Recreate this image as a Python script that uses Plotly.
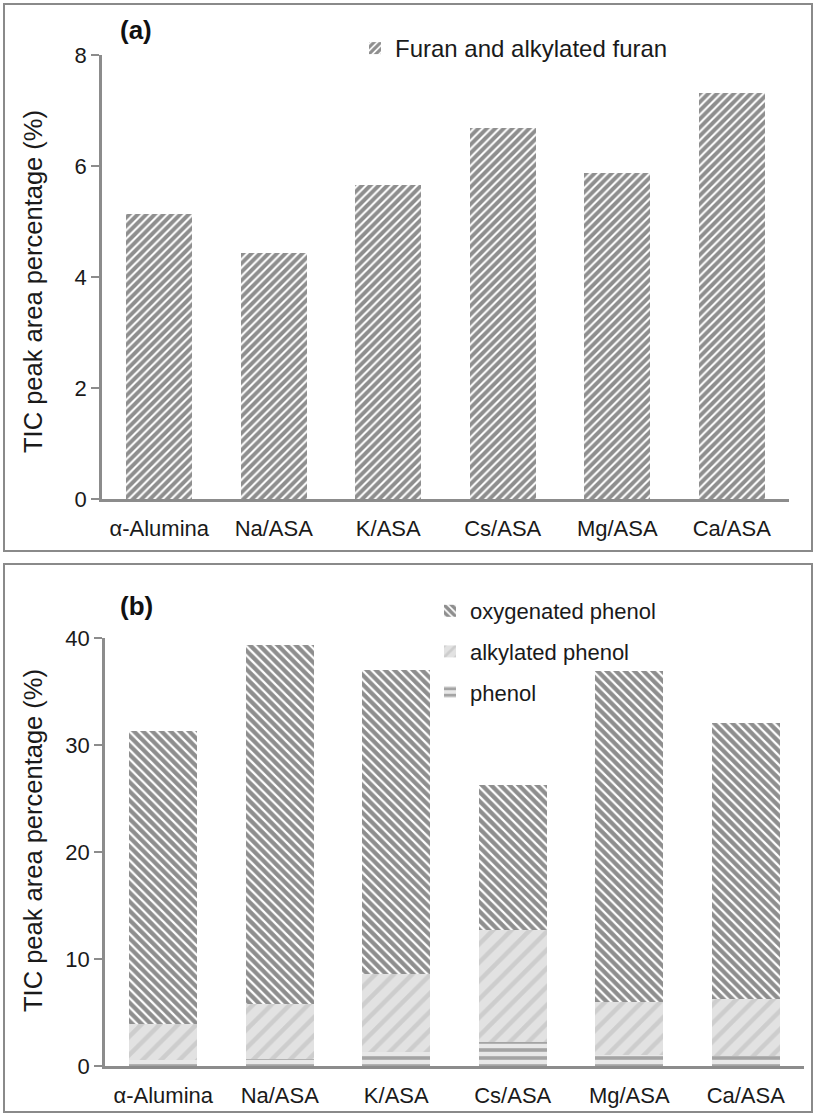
import plotly.graph_objects as go

categories = ["α-Alumina", "Na/ASA", "K/ASA", "Cs/ASA", "Mg/ASA", "Ca/ASA"]

# Panel (a)
furan = [5.13, 4.43, 5.65, 6.68, 5.88, 7.32]

# Panel (b) stacked segments
phenol = [0.6, 0.7, 1.3, 2.2, 1.0, 0.9]
alkylated_phenol = [3.3, 5.1, 7.3, 10.5, 5.0, 5.4]
oxygenated_phenol = [27.4, 33.5, 28.4, 13.6, 30.9, 25.8]

y_title = "TIC peak area percentage (%)"

W, H = 816, 1116
FONT = "Liberation Sans, Arial, sans-serif"
TXT = "#1a1a1a"
AX = "#8c8c8c"

def px(x):
    return x / W

def py(y):
    return 1 - y / H

fig = go.Figure()

fig.add_trace(go.Bar(
    x=categories, y=furan, name="Furan and alkylated furan",
    xaxis="x", yaxis="y", legend="legend",
    marker=dict(color="white", line=dict(width=0),
                pattern=dict(shape="/", fgcolor="#1e1e1e", bgcolor="white",
                             size=6, solidity=0.66)),
))

fig.add_trace(go.Bar(
    x=categories, y=phenol, name="phenol",
    xaxis="x2", yaxis="y2", legend="legend2", legendgroup="g1", legendrank=3,
    marker=dict(color="#e4e4e4", line=dict(width=0),
                pattern=dict(shape="-", fgcolor="#606060", bgcolor="#e8e8e8",
                             size=8, solidity=0.45)),
))
fig.add_trace(go.Bar(
    x=categories, y=alkylated_phenol, name="alkylated phenol",
    xaxis="x2", yaxis="y2", legend="legend2", legendgroup="g2", legendrank=2,
    marker=dict(color="#e0e0e0", line=dict(width=0),
                pattern=dict(shape="/", fgcolor="#b8b8b8", bgcolor="#e2e2e2",
                             size=13, solidity=0.35)),
))
fig.add_trace(go.Bar(
    x=categories, y=oxygenated_phenol, name="oxygenated phenol",
    xaxis="x2", yaxis="y2", legend="legend2", legendgroup="g3", legendrank=1,
    marker=dict(color="white", line=dict(width=0),
                pattern=dict(shape="\\", fgcolor="#1e1e1e", bgcolor="white",
                             size=6.5, solidity=0.66)),
))

yaxis_common = dict(
    showgrid=False, zeroline=False, showline=True, linecolor=AX, linewidth=2.5,
    ticks="outside", ticklen=8, tickcolor=AX, tickwidth=2,
    tickfont=dict(family=FONT, size=22, color=TXT),
    automargin=False,
)
xaxis_common = dict(
    showgrid=False, zeroline=False, showline=True, linecolor=AX, linewidth=2.5,
    ticks="", tickfont=dict(family=FONT, size=22, color=TXT),
    ticklabelstandoff=8, automargin=False,
)

fig.update_layout(
    width=W, height=H,
    margin=dict(l=0, r=0, t=0, b=0, autoexpand=False),
    paper_bgcolor="white", plot_bgcolor="white",
    barmode="stack",
    xaxis=dict(domain=[px(102), px(789)], anchor="y", **xaxis_common),
    yaxis=dict(domain=[py(499), py(55)], anchor="x", range=[0, 8],
               tickvals=[0, 2, 4, 6, 8], **yaxis_common),
    xaxis2=dict(domain=[px(105), px(804)], anchor="y2", **xaxis_common),
    yaxis2=dict(domain=[py(1066), py(638)], anchor="x2", range=[0, 40],
                tickvals=[0, 10, 20, 30, 40], **yaxis_common),
    bargap=0.42,
    legend=dict(x=px(355), y=py(26), xanchor="left", yanchor="top",
                bgcolor="rgba(0,0,0,0)", font=dict(family=FONT, size=24, color=TXT),
                itemwidth=30),
    legend2=dict(x=px(430), y=py(590), xanchor="left", yanchor="top",
                 bgcolor="rgba(0,0,0,0)", font=dict(family=FONT, size=22, color=TXT),
                 traceorder="grouped", tracegroupgap=9, itemwidth=30),
    showlegend=True,
    shapes=[
        dict(type="rect", xref="paper", yref="paper",
             x0=px(4), x1=px(812), y0=py(551), y1=py(4),
             line=dict(color="#8a8a8a", width=2), fillcolor="rgba(0,0,0,0)"),
        dict(type="rect", xref="paper", yref="paper",
             x0=px(4), x1=px(812), y0=py(1112), y1=py(564),
             line=dict(color="#8a8a8a", width=2), fillcolor="rgba(0,0,0,0)"),
    ],
    annotations=[
        dict(text="<b>(a)</b>", xref="paper", yref="paper", x=px(118), y=py(30),
             xanchor="left", yanchor="middle", showarrow=False,
             font=dict(family=FONT, size=26, color="#111")),
        dict(text="<b>(b)</b>", xref="paper", yref="paper", x=px(118), y=py(606),
             xanchor="left", yanchor="middle", showarrow=False,
             font=dict(family=FONT, size=26, color="#111")),
        dict(text=y_title, xref="paper", yref="paper", x=px(33), y=py(282),
             xanchor="center", yanchor="middle", textangle=-90, showarrow=False,
             font=dict(family=FONT, size=25.5, color=TXT)),
        dict(text=y_title, xref="paper", yref="paper", x=px(33), y=py(841),
             xanchor="center", yanchor="middle", textangle=-90, showarrow=False,
             font=dict(family=FONT, size=25.5, color=TXT)),
    ],
)

fig.write_html("out.html")
